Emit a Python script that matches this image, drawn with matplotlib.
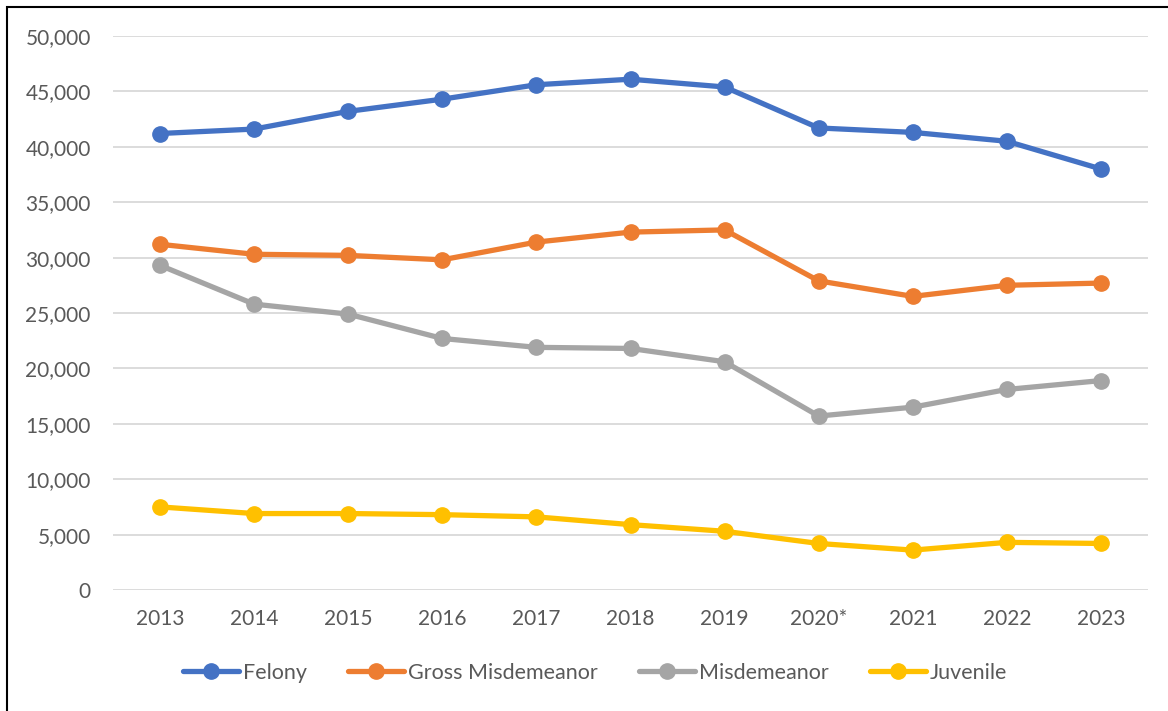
import matplotlib.pyplot as plt
from matplotlib.patches import Rectangle
from matplotlib.ticker import FuncFormatter

plt.rcParams['font.family'] = ['Lato', 'DejaVu Sans']

years = ['2013', '2014', '2015', '2016', '2017', '2018', '2019', '2020*', '2021', '2022', '2023']
felony = [41200, 41600, 43200, 44300, 45600, 46100, 45400, 41700, 41300, 40500, 38000]
gross_misd = [31200, 30300, 30200, 29800, 31400, 32300, 32500, 27900, 26500, 27500, 27700]
misdemeanor = [29300, 25800, 24900, 22700, 21900, 21800, 20600, 15700, 16500, 18100, 18900]
juvenile = [7500, 6900, 6900, 6800, 6600, 5900, 5300, 4200, 3600, 4300, 4200]

series = [('Felony', felony, '#4472C4'),
          ('Gross Misdemeanor', gross_misd, '#ED7D31'),
          ('Misdemeanor', misdemeanor, '#A5A5A5'),
          ('Juvenile', juvenile, '#FFC000')]

W, H = 1168, 711
fig = plt.figure(figsize=(W / 100, H / 100), dpi=100)
ax = fig.add_axes([113 / W, (H - 590) / H, (1148 - 113) / W, (590 - 36) / H])

x = range(len(years))
for name, vals, col in series:
    ax.plot(x, vals, color=col, lw=3.8, marker='o', ms=11, label=name,
            solid_capstyle='round', zorder=3)

ax.set_xlim(-0.5, len(years) - 0.5)
ax.set_ylim(0, 50000)
ax.set_yticks(range(0, 50001, 5000))
ax.yaxis.set_major_formatter(FuncFormatter(lambda v, p: f'{int(v):,}'))
ax.set_xticks(list(x))
ax.set_xticklabels(years)
ax.grid(axis='y', color='#D9D9D9', lw=1.3)
ax.set_axisbelow(True)
for s in ax.spines.values():
    s.set_visible(False)
ax.tick_params(length=0, labelsize=15, colors='#595959')
ax.tick_params(axis='x', pad=14)
ax.tick_params(axis='y', pad=16)

fig.legend(loc='center', bbox_to_anchor=(595 / W, 1 - 673 / H), ncol=4,
           frameon=False, fontsize=15.5, labelcolor='#595959',
           handlelength=2.6, handletextpad=0.2, columnspacing=1.9)

# chart border
fig.patches.append(Rectangle((7 / W, -0.1), 1.2, 1 - 7 / H + 0.1, transform=fig.transFigure,
                             fill=False, edgecolor='black', lw=1.5))

fig.savefig('out.png', dpi=100)
